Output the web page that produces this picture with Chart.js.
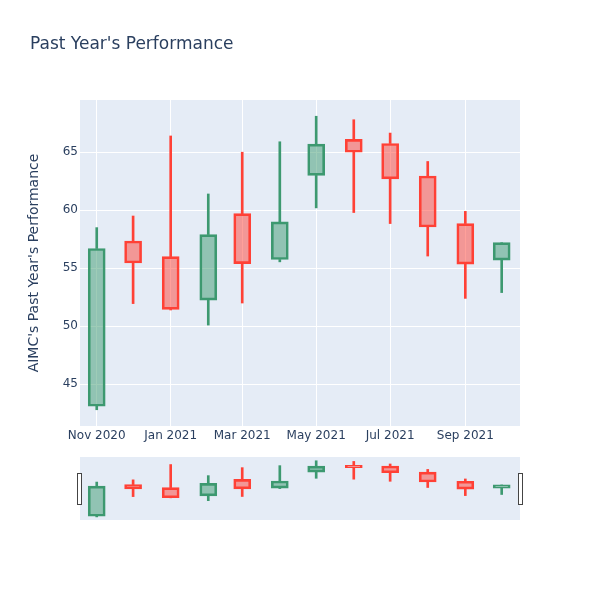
<!DOCTYPE html>
<html>
<head>
<meta charset="utf-8">
<script src="https://cdn.jsdelivr.net/npm/chart.js@4.4.0/dist/chart.umd.min.js"></script>
<style>
  body { margin: 0; background: #fff; }
  #wrap { position: relative; width: 600px; height: 600px; }
  #wrap canvas { position: absolute; left: 0; top: 0; }
</style>
</head>
<body>
<div id="wrap">
  <canvas id="main" width="600" height="600"></canvas>
  <canvas id="slider" width="600" height="600"></canvas>
</div>
<script>
// monthly OHLC
const dates  = ['2020-11-01','2020-12-01','2021-01-01','2021-02-01','2021-03-01','2021-04-01',
                '2021-05-01','2021-06-01','2021-07-01','2021-08-01','2021-09-01','2021-10-01'];
const opens  = [43.1, 57.35, 56.0, 52.25, 59.7, 55.75, 63.0, 66.1, 65.75, 62.95, 58.85, 55.7];
const highs  = [58.5, 59.5, 66.4, 61.4, 65.0, 65.9, 68.1, 67.8, 66.65, 64.2, 59.9, 57.2];
const lows   = [42.8, 51.95, 51.4, 50.1, 52.0, 55.55, 60.2, 59.8, 58.85, 56.05, 52.4, 52.9];
const closes = [56.7, 55.45, 51.45, 57.9, 55.4, 59.0, 65.7, 65.0, 62.7, 58.55, 55.35, 57.2];

const tickDates  = ['2020-11-01','2021-01-01','2021-03-01','2021-05-01','2021-07-01','2021-09-01'];
const tickLabels = ['Nov 2020','Jan 2021','Mar 2021','May 2021','Jul 2021','Sep 2021'];
const yTicks = [45, 50, 55, 60, 65];

const textColor = '#2a3f5f';
const fontFam = 'DejaVu Sans';
const DAY = 86400000;
const start = Date.parse(dates[0]);
const dayOf = s => (Date.parse(s) - start) / DAY;
const xs = dates.map(dayOf);
const xTickPos = tickDates.map(dayOf);
const xMin = -13.8, xMax = 349.1;

const up = opens.map((o, i) => closes[i] >= o);
const lineCol = up.map(u => u ? '#3D9970' : '#FF4136');
const fillCol = up.map(u => u ? 'rgba(61,153,112,0.5)' : 'rgba(255,65,54,0.5)');

function candleSets() {
  return [
    { data: xs.map((x, i) => ({ x: x, y: [lows[i], Math.min(opens[i], closes[i])] })),
      backgroundColor: lineCol, barThickness: 2, grouped: false },
    { data: xs.map((x, i) => ({ x: x, y: [Math.max(opens[i], closes[i]), highs[i]] })),
      backgroundColor: lineCol, barThickness: 2, grouped: false },
    { data: xs.map((x, i) => ({ x: x, y: [opens[i], closes[i]] })),
      backgroundColor: fillCol, borderColor: lineCol, borderWidth: 2, borderSkipped: false,
      barThickness: 17, grouped: false }
  ];
}

const plotBg = {
  id: 'plotBg',
  beforeDraw(c) {
    const a = c.chartArea, ctx = c.ctx;
    ctx.save();
    ctx.fillStyle = '#E5ECF6';
    ctx.fillRect(a.left, a.top, a.right - a.left, a.bottom - a.top);
    ctx.restore();
  }
};

const mainTitle = {
  id: 'mainTitle',
  afterDraw(c) {
    const ctx = c.ctx;
    ctx.save();
    ctx.font = '17px "' + fontFam + '"';
    ctx.fillStyle = textColor;
    ctx.textBaseline = 'middle';
    ctx.fillText("Past Year's Performance", 30, 45);
    ctx.restore();
  }
};

new Chart(document.getElementById('main'), {
  type: 'bar',
  data: { datasets: candleSets() },
  plugins: [plotBg, mainTitle],
  options: {
    responsive: false,
    animation: false,
    layout: { padding: { left: 22, right: 80, top: 100, bottom: 154 } },
    plugins: { legend: { display: false }, tooltip: { enabled: false } },
    scales: {
      x: {
        type: 'linear', min: xMin, max: xMax, offset: false,
        afterBuildTicks: s => { s.ticks = xTickPos.map(v => ({ value: v })); },
        afterFit: s => { s.height = 20; },
        ticks: {
          autoSkip: false, maxRotation: 0, padding: 3, color: textColor,
          font: { family: fontFam, size: 12 },
          callback: (v, i) => tickLabels[i]
        },
        grid: { color: '#ffffff', lineWidth: 1, drawTicks: false, offset: false },
        border: { display: false }
      },
      y: {
        min: 41.4, max: 69.5,
        afterBuildTicks: s => { s.ticks = yTicks.map(v => ({ value: v })); },
        afterFit: s => { s.width = 58; },
        ticks: { padding: 2, color: textColor, font: { family: fontFam, size: 12 } },
        grid: { color: '#ffffff', lineWidth: 1, drawTicks: false },
        border: { display: false },
        title: {
          display: true, text: "AIMC's Past Year's Performance", color: textColor,
          font: { family: fontFam, size: 14 }
        }
      }
    }
  }
});

const handles = {
  id: 'handles',
  afterDraw(c) {
    const a = c.chartArea, ctx = c.ctx;
    ctx.save();
    ctx.fillStyle = '#ffffff';
    ctx.strokeStyle = '#444444';
    ctx.lineWidth = 1;
    [a.left - 2.5, a.right - 1.5].forEach(x => {
      ctx.fillRect(x, a.top + 16.5, 4, 31);
      ctx.strokeRect(x, a.top + 16.5, 4, 31);
    });
    ctx.restore();
  }
};

new Chart(document.getElementById('slider'), {
  type: 'bar',
  data: { datasets: candleSets() },
  plugins: [plotBg, handles],
  options: {
    responsive: false,
    animation: false,
    layout: { padding: { left: 80, right: 80, top: 457, bottom: 80 } },
    plugins: { legend: { display: false }, tooltip: { enabled: false } },
    scales: {
      x: { type: 'linear', min: xMin, max: xMax, offset: false, display: false },
      y: { min: 41.4, max: 69.8, display: false }
    }
  }
});
</script>
</body>
</html>
